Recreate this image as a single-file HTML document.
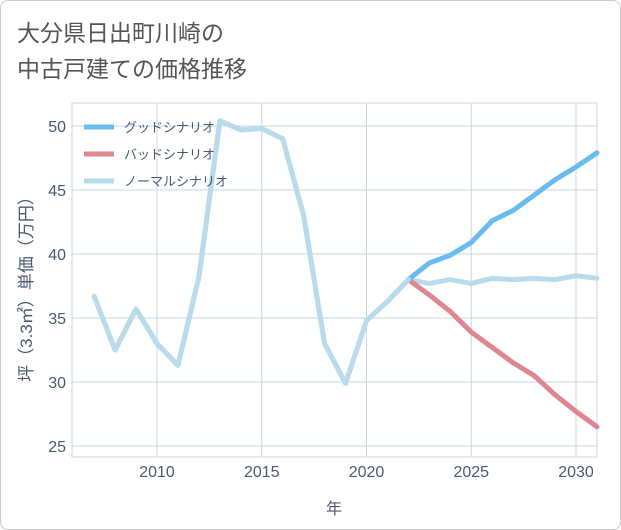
<!DOCTYPE html>
<html><head><meta charset="utf-8"><style>
body{margin:0;background:#fff;}
#wrap{position:relative;width:619px;height:528px;border:1px solid #ccc;border-radius:8px;background:#fff;font-family:"Liberation Sans","Noto Sans CJK JP",sans-serif;overflow:hidden}
#title{position:absolute;left:16px;top:14px;font-size:23px;line-height:36px;color:#555;}
svg text{font-family:"Liberation Sans","Noto Sans CJK JP",sans-serif;}
</style></head><body>
<div id="wrap">
<div id="title">大分県日出町川崎の<br>中古戸建ての価格推移</div>
<svg id="chart" width="621" height="530" style="position:absolute;left:-1px;top:-1px"></svg>
</div>
<script>
const years=[2007,2008,2009,2010,2011,2012,2013,2014,2015,2016,2017,2018,2019,2020,2021,2022,2023,2024,2025,2026,2027,2028,2029,2030,2031];
const normal=[36.7,32.5,35.7,33,31.3,38.2,50.4,49.7,49.8,49,43,33,29.9,34.8,36.3,38,37.7,38,37.7,38.1,38,38.1,38,38.3,38.1];
const fYears=[2022,2023,2024,2025,2026,2027,2028,2029,2030,2031];
const good=[38,39.3,39.9,40.9,42.6,43.4,44.6,45.8,46.8,47.9];
const bad=[38,36.8,35.5,33.9,32.7,31.5,30.5,29,27.7,26.5];
const xTicks=[2010,2015,2020,2025,2030];
const yTicks=[25,30,35,40,45,50];
const NS="http://www.w3.org/2000/svg",svg=document.getElementById('chart');
const L=72,R=597,T=103,B=457;
const x=v=>157+(v-2010)*20.95, y=v=>446-(v-25)*12.8;
function mk(t,a){const e=document.createElementNS(NS,t);for(const k in a)e.setAttribute(k,a[k]);svg.appendChild(e);return e;}
const frame=mk('rect',{x:L,y:T,width:R-L,height:B-T,fill:'#fff',stroke:'#ccd6e0'});


yTicks.forEach(v=>{const g=mk('line',{x1:L,x2:R,y1:y(v),y2:y(v),stroke:'#c8d8e4'});


const t=mk('text',{x:66,y:y(v)+6,'text-anchor':'end','font-size':16,fill:'#4a5a70'});t.textContent=v;

});
xTicks.forEach(v=>{const g=mk('line',{x1:x(v),x2:x(v),y1:T,y2:B,stroke:'#c8d8e4'});


const t=mk('text',{x:x(v),y:477,'text-anchor':'middle','font-size':16,fill:'#4a5a70'});t.textContent=v;

});
const xt=mk('text',{x:334,y:514,'text-anchor':'middle','font-size':16,fill:'#4a5a70'});xt.textContent='年';


const yt=mk('text',{x:0,y:0,'text-anchor':'middle','font-size':17,fill:'#4a5a70',transform:'translate(32,285) rotate(-90)'});yt.textContent='坪（3.3㎡）単価（万円）';


function line(xs,ys,c,name){const p=mk('polyline',{points:xs.map((v,i)=>x(v)+','+y(ys[i])).join(' '),fill:'none',stroke:c,'stroke-width':5,'stroke-linejoin':'round','stroke-linecap':'round'});

}
line(years,normal,'#b8dcec','normal-line');
line(fYears,bad,'#de8790','bad-line');
line(fYears,good,'#6abcf0','good-line');
line(years.slice(0,16),normal.slice(0,16),'#b8dcec','normal-line-history');
const leg=[['グッドシナリオ','#6abcf0'],['バッドシナリオ','#de8790'],['ノーマルシナリオ','#b8dcec']];
leg.forEach((d,i)=>{const yy=127+i*27;const l=mk('line',{x1:84,x2:114,y1:yy,y2:yy,stroke:d[1],'stroke-width':5});


const t=mk('text',{x:124,y:yy+5,'font-size':13,fill:'#4a5a70'});t.textContent=d[0];

});
</script>
</body></html>
